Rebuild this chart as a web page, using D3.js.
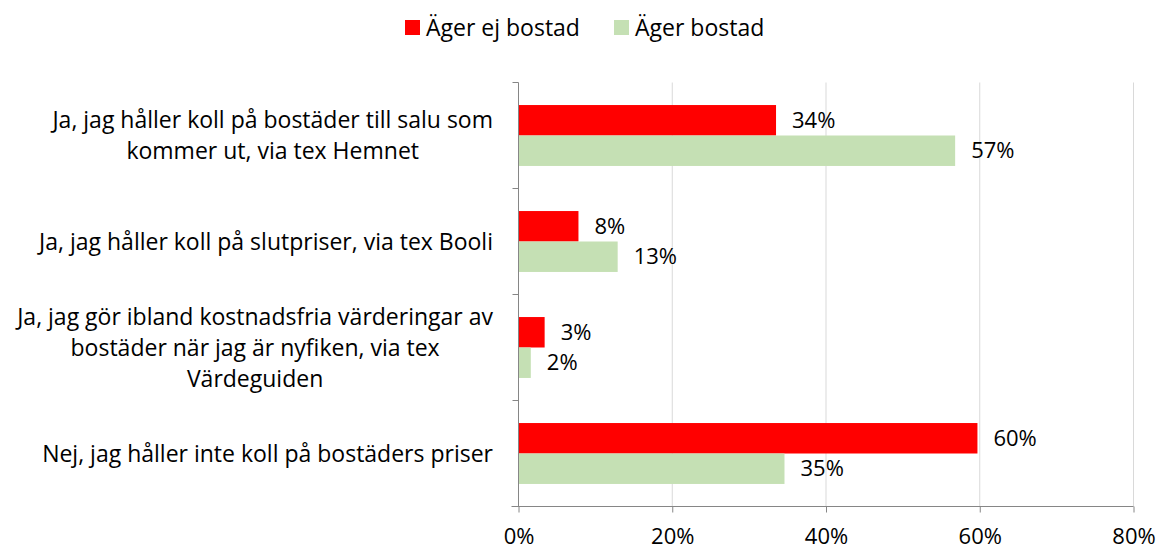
<!DOCTYPE html>
<html>
<head>
<meta charset="utf-8">
<script src="https://cdn.jsdelivr.net/npm/d3@7"></script>
<style>
  body { margin: 0; background: #fff; }
  text { font-family: "Open Sans", sans-serif; fill: #000; }
</style>
</head>
<body>
<div id="chart"></div>
<script>
var categories = [
  ["Ja, jag håller koll på bostäder till salu som", "kommer ut, via tex Hemnet"],
  ["Ja, jag håller koll på slutpriser, via tex Booli"],
  ["Ja, jag gör ibland kostnadsfria värderingar av", "bostäder när jag är nyfiken, via tex", "Värdeguiden"],
  ["Nej, jag håller inte koll på bostäders priser"]
];
var seriesNames = ["Äger ej bostad", "Äger bostad"];
var agerEj = [33.5, 7.8, 3.4, 59.7];
var agerLabels = ["34%", "8%", "3%", "60%"];
var ager = [56.8, 12.9, 1.6, 34.6];
var agerBostadLabels = ["57%", "13%", "2%", "35%"];
var xTicks = [0, 20, 40, 60, 80];
var colors = ["#ff0000", "#c5e0b4"];

var width = 1161, height = 552;
var svg = d3.select("#chart").append("svg")
  .attr("width", width).attr("height", height);

var x = d3.scaleLinear().domain([0, 80]).range([518.5, 1133.5]);
var catKeys = categories.map(function (d, i) { return i; });
var y0 = d3.scaleBand().domain(catKeys).range([82.5, 506.5]);
var y1 = d3.scaleBand().domain([0, 1]).range([0, y0.bandwidth()]).paddingOuter(0.74);

// gridlines
svg.append("g")
  .selectAll("line")
  .data(xTicks.slice(1))
  .enter().append("line")
  .attr("x1", function (d) { return x(d); })
  .attr("x2", function (d) { return x(d); })
  .attr("y1", 82.5).attr("y2", 506.5)
  .attr("stroke", "#d9d9d9").attr("stroke-width", 1);

// bars
var rows = catKeys.map(function (i) {
  return [
    { cat: i, s: 0, v: agerEj[i], label: agerLabels[i] },
    { cat: i, s: 1, v: ager[i], label: agerBostadLabels[i] }
  ];
});
var flat = [].concat.apply([], rows);

svg.append("g").selectAll("rect")
  .data(flat)
  .enter().append("rect")
  .attr("x", x(0))
  .attr("y", function (d) { return y0(d.cat) + y1(d.s); })
  .attr("width", function (d) { return x(d.v) - x(0); })
  .attr("height", y1.bandwidth())
  .attr("fill", function (d) { return colors[d.s]; });

svg.append("g").selectAll("text")
  .data(flat)
  .enter().append("text")
  .attr("x", function (d) { return x(d.v) + 16; })
  .attr("y", function (d) { return y0(d.cat) + y1(d.s) + y1.bandwidth() / 2; })
  .attr("dy", "0.35em")
  .style("font-size", "22px")
  .text(function (d) { return d.label; });

// x axis
var xAxis = svg.append("g")
  .attr("transform", "translate(0," + 506.5 + ")")
  .call(d3.axisBottom(x).tickValues(xTicks).tickSize(6).tickPadding(16)
    .tickFormat(function (d) { return d + "%"; }));
xAxis.select(".domain").attr("stroke", "#868686").attr("d", "M" + (x(0) - 7) + ",0H" + x(80));
xAxis.selectAll(".tick line").attr("stroke", "#868686");
xAxis.selectAll(".tick text").style("font-size", "22px").style("font-family", "'Open Sans', sans-serif");

// y axis
var yAxis = svg.append("g").attr("transform", "translate(" + x(0) + ",0)");
yAxis.append("line")
  .attr("x1", 0).attr("x2", 0).attr("y1", 82.5).attr("y2", 506.5)
  .attr("stroke", "#868686");
yAxis.selectAll("line.tk")
  .data(catKeys.concat([4]))
  .enter().append("line")
  .attr("class", "tk")
  .attr("x1", -6).attr("x2", 0)
  .attr("y1", function (d) { return d < 4 ? y0(d) : 506.5; })
  .attr("y2", function (d) { return d < 4 ? y0(d) : 506.5; })
  .attr("stroke", "#868686");

// category labels, wrapped lines centred, block right aligned
var lineH = 31;
categories.forEach(function (lines, i) {
  var g = svg.append("text")
    .style("font-size", "23px")
    .attr("text-anchor", "middle");
  var cy = y0(i) + y0.bandwidth() / 2;
  var top = cy - (lines.length - 1) * lineH / 2;
  var spans = lines.map(function (l, j) {
    return g.append("tspan").attr("y", top + j * lineH).attr("dy", "0.35em").text(l);
  });
  var maxW = d3.max(spans, function (s) { return s.node().getComputedTextLength(); });
  spans.forEach(function (s) { s.attr("x", 493 - maxW / 2); });
});

// legend
var legendX = [405, 614];
var legend = svg.append("g").selectAll("g")
  .data(seriesNames)
  .enter().append("g")
  .attr("transform", function (d, i) { return "translate(" + legendX[i] + ",20)"; });
legend.append("rect")
  .attr("width", 15).attr("height", 15)
  .attr("fill", function (d, i) { return colors[i]; });
legend.append("text")
  .attr("x", 21).attr("y", 8).attr("dy", "0.35em")
  .style("font-size", "23px")
  .text(function (d) { return d; });
</script>
</body>
</html>
